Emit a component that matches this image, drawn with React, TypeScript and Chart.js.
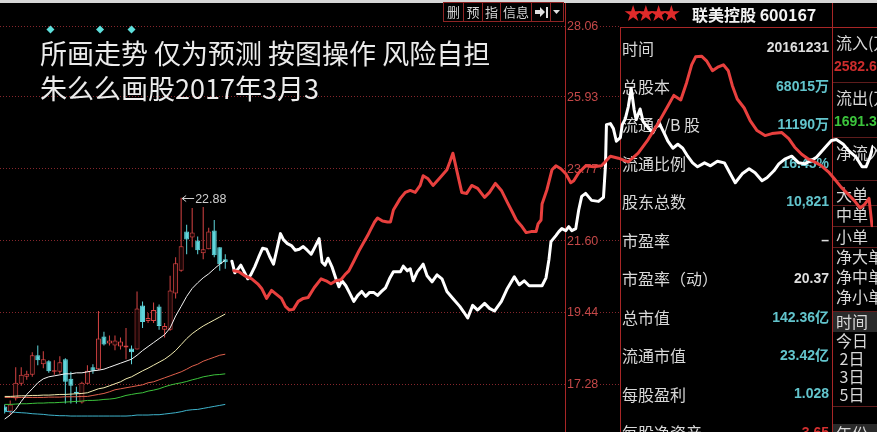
import React, { useEffect, useRef } from "react";
import { Chart, registerables } from "chart.js";

Chart.register(...registerables);

const W = 877;
const H = 432;
const CJK = '"Noto Sans CJK SC", "Noto Sans", sans-serif';
const LAT = '"Liberation Sans", Arial, "Noto Sans CJK SC", sans-serif';
const RED = "#d84444";
const CYAN = "#5fd6dc";

// ---- daily candles: [open, high, low, close] ----
const candles: number[][] = [
  [16.6, 16.66, 16.39, 16.45], [16.45, 16.78, 16.36, 16.66], [16.84, 17.78, 16.78, 17.31],
  [17.28, 17.78, 17.22, 17.55], [17.49, 17.67, 17.4, 17.58], [17.55, 18.23, 17.49, 18.14],
  [18.14, 18.43, 17.84, 17.99], [17.87, 18.26, 17.75, 18.02], [17.96, 17.99, 17.61, 17.66],
  [17.64, 17.99, 17.55, 17.69], [17.64, 18.11, 17.58, 17.93], [18.02, 18.05, 16.69, 17.34],
  [17.43, 17.64, 16.69, 17.22], [17.04, 17.19, 16.69, 16.99], [16.72, 17.34, 16.69, 17.31],
  [17.28, 17.84, 17.28, 17.67], [17.78, 17.87, 17.58, 17.67], [17.72, 19.47, 17.69, 18.64],
  [18.7, 18.85, 18.43, 18.46], [18.49, 18.73, 18.43, 18.58], [18.43, 18.73, 18.29, 18.58],
  [18.4, 18.67, 18.31, 18.55], [18.37, 18.96, 18.02, 18.43], [18.34, 18.43, 17.87, 18.23],
  [18.31, 20.06, 18.31, 19.55], [19.64, 19.76, 18.96, 19.14], [19.17, 19.41, 19.11, 19.26],
  [19.17, 19.73, 19.11, 19.5], [19.61, 19.67, 18.91, 19.02], [18.91, 19.11, 18.67, 19.02],
  [18.91, 20.53, 18.88, 20.09], [20.0, 21.09, 19.85, 20.91], [20.68, 22.88, 20.65, 21.42],
  [21.86, 22.07, 21.18, 21.62], [21.68, 22.57, 21.39, 21.83], [21.59, 21.71, 21.18, 21.3],
  [21.21, 22.6, 21.03, 21.33], [21.33, 21.98, 21.33, 21.86], [21.89, 22.21, 21.09, 21.15],
  [21.39, 21.39, 20.68, 20.88], [21.03, 21.18, 20.74, 20.94],
];

// ---- moving averages ----
const ma5 = [16.22, 16.34, 16.51, 16.75, 16.96, 17.13, 17.31, 17.43, 17.49, 17.52, 17.55, 17.58, 17.58, 17.61, 17.61, 17.64, 17.67, 17.69, 17.72, 17.78, 17.84, 17.9, 17.96, 18.02, 18.14, 18.28, 18.4, 18.52, 18.64, 18.76, 18.96, 19.32, 19.61, 19.91, 20.15, 20.32, 20.47, 20.59, 20.74, 20.88, 21.0];
const ma10 = [16.9, 16.9, 16.91, 16.92, 16.92, 16.93, 16.93, 16.94, 16.94, 16.95, 16.96, 16.96, 16.97, 16.98, 16.99, 17.01, 17.07, 17.13, 17.16, 17.22, 17.28, 17.34, 17.43, 17.49, 17.58, 17.67, 17.75, 17.84, 17.93, 18.02, 18.14, 18.28, 18.46, 18.64, 18.79, 18.91, 19.02, 19.11, 19.2, 19.29, 19.38];
const ma20 = [16.87, 16.87, 16.87, 16.87, 16.87, 16.87, 16.87, 16.87, 16.88, 16.88, 16.88, 16.89, 16.89, 16.89, 16.9, 16.9, 16.93, 16.96, 16.99, 17.04, 17.1, 17.13, 17.16, 17.19, 17.22, 17.25, 17.31, 17.34, 17.4, 17.46, 17.52, 17.58, 17.64, 17.72, 17.81, 17.87, 17.96, 18.02, 18.08, 18.14, 18.17];
const ma30 = [16.66, 16.66, 16.67, 16.68, 16.68, 16.69, 16.7, 16.7, 16.71, 16.71, 16.72, 16.73, 16.74, 16.75, 16.76, 16.78, 16.78, 16.79, 16.81, 16.82, 16.84, 16.88, 16.93, 16.96, 16.99, 17.01, 17.06, 17.09, 17.13, 17.19, 17.24, 17.28, 17.31, 17.35, 17.4, 17.44, 17.49, 17.52, 17.55, 17.56, 17.58];
const ma60 = [16.45, 16.44, 16.42, 16.41, 16.4, 16.38, 16.37, 16.36, 16.34, 16.33, 16.32, 16.32, 16.31, 16.31, 16.31, 16.31, 16.31, 16.31, 16.31, 16.31, 16.31, 16.31, 16.31, 16.32, 16.34, 16.34, 16.34, 16.35, 16.35, 16.37, 16.39, 16.41, 16.44, 16.48, 16.5, 16.51, 16.54, 16.57, 16.6, 16.63, 16.66];

// ---- price axis ticks ----
const priceTicks = [28.06, 25.93, 23.77, 21.6, 19.44, 17.28];
const tickLabels = ["28.06", "25.93", "23.77", "21.60", "19.44", "17.28"];

// ---- hand-drawn forecasts: [day, price] ----
const whiteForecast: number[][] = [
  [41.2, 20.97], [41.74, 20.62], [42.46, 20.77], [42.82, 20.85], [43.36, 20.68], [44.08, 20.44], [44.62, 20.56], [45.34, 20.8], [46.06, 21.09], [46.78, 21.36], [47.49, 21.33], [48.03, 21.12], [48.75, 20.88], [49.29, 21.27], [50.01, 21.8], [50.55, 21.62], [51.27, 21.5], [51.99, 21.44], [52.7, 21.3], [53.42, 21.33], [54.14, 21.41], [54.86, 21.3], [55.58, 21.18], [56.3, 21.41], [57.02, 21.65], [57.56, 20.94], [58.1, 20.85], [58.63, 21.06], [59.35, 20.8], [60.07, 20.44], [60.61, 20.2], [61.15, 20.38], [61.87, 20.23], [62.59, 20.0], [63.31, 19.76], [64.03, 19.94], [64.74, 20.06], [65.46, 19.91], [66.18, 20.03], [66.9, 20.03], [67.62, 19.94], [68.34, 20.06], [69.06, 20.17], [69.78, 20.44], [70.49, 20.65], [71.21, 20.65], [71.75, 20.65], [72.29, 20.82], [73.01, 20.68], [73.55, 20.74], [74.09, 20.38], [74.81, 20.65], [75.53, 20.8], [75.89, 20.88], [76.6, 20.53], [77.5, 20.35], [78.4, 20.56], [79.3, 20.44], [80.2, 20.06], [81.28, 19.85], [82.53, 19.61], [83.25, 19.44], [83.97, 19.26], [84.87, 19.64], [85.77, 19.5], [87.03, 19.7], [87.92, 19.55], [88.82, 19.47], [90.08, 19.76], [91.16, 20.15], [92.42, 20.5], [93.32, 20.26], [94.21, 20.38], [95.11, 20.23], [96.37, 20.23], [97.45, 20.23], [98.17, 20.47], [98.71, 21.03], [99.07, 21.56], [99.96, 21.74], [100.5, 21.86], [101.04, 21.95], [101.76, 21.89], [102.3, 22.01], [102.84, 21.89], [103.56, 21.95], [104.1, 22.51], [104.64, 22.92], [105.36, 23.01], [106.43, 22.8], [107.69, 22.77], [108.59, 22.89], [108.95, 23.84], [109.13, 25.08], [109.85, 25.11], [110.39, 24.96], [110.93, 24.58], [111.65, 24.69], [112.0, 25.08], [112.54, 25.25], [113.08, 25.61], [113.62, 26.17], [114.16, 25.52], [114.52, 25.23], [115.24, 25.55], [115.78, 25.17], [116.68, 24.99], [117.57, 24.84], [118.11, 25.02], [118.83, 25.08], [119.55, 24.84], [120.27, 24.58], [121.17, 24.37], [122.07, 24.49], [122.97, 24.37], [123.86, 24.13], [124.76, 23.93], [125.66, 23.81], [126.92, 23.93], [128.0, 23.84], [129.25, 23.98], [130.51, 23.93], [131.59, 23.6], [132.49, 23.33], [133.75, 23.6], [135.0, 23.75], [136.08, 23.63], [137.34, 23.39], [138.24, 23.48], [139.5, 23.69], [140.4, 23.9], [141.47, 24.04], [142.73, 24.13], [143.99, 23.93], [145.07, 23.9], [146.33, 24.01], [147.22, 24.1], [148.66, 24.37], [149.92, 24.6], [150.82, 24.63], [152.08, 24.49], [153.15, 24.28], [154.41, 24.1], [155.49, 23.81], [156.21, 23.81], [156.93, 24.1], [157.47, 24.43],
];
const redForecast: number[][] = [
  [41.56, 20.68], [42.46, 20.65], [43.54, 20.53], [44.8, 20.44], [45.88, 20.29], [46.6, 20.15], [47.49, 19.85], [48.39, 20.09], [49.29, 19.97], [50.19, 19.85], [50.91, 19.61], [51.63, 19.5], [52.35, 19.52], [53.24, 19.76], [54.14, 19.85], [55.04, 19.88], [56.12, 20.17], [57.38, 20.44], [58.28, 20.38], [59.17, 20.29], [60.07, 20.38], [60.97, 20.41], [61.69, 20.56], [62.41, 20.68], [63.31, 20.97], [64.21, 21.27], [65.1, 21.53], [65.82, 21.74], [66.36, 21.92], [67.08, 22.15], [67.62, 22.27], [68.52, 22.18], [69.42, 22.15], [69.96, 22.15], [70.49, 22.51], [71.21, 22.71], [71.75, 22.86], [72.65, 23.04], [73.55, 23.1], [74.45, 23.04], [75.35, 23.25], [75.89, 23.54], [76.78, 23.45], [77.68, 23.25], [78.94, 23.48], [80.2, 23.72], [80.74, 23.96], [81.28, 24.22], [82.0, 23.69], [82.89, 23.04], [83.79, 23.01], [84.69, 23.25], [85.77, 23.16], [87.03, 22.89], [87.92, 23.04], [89.0, 23.31], [90.08, 23.1], [91.16, 22.74], [92.06, 22.45], [92.78, 22.21], [93.68, 22.04], [94.57, 21.83], [95.47, 21.86], [96.37, 21.86], [96.73, 22.09], [97.27, 22.21], [97.45, 22.69], [98.35, 23.13], [99.25, 23.72], [99.96, 23.84], [100.86, 23.75], [101.76, 23.6], [102.66, 23.33], [103.2, 23.39], [104.1, 23.63], [105.36, 23.84], [106.79, 23.81], [108.23, 23.84], [109.85, 24.13], [111.29, 24.07], [113.08, 23.96], [114.88, 24.22], [116.68, 24.63], [118.47, 25.11], [120.27, 25.64], [121.35, 25.96], [122.61, 25.82], [123.68, 26.35], [124.58, 26.88], [125.3, 27.12], [126.38, 27.14], [127.28, 27.0], [128.36, 26.7], [129.43, 26.82], [130.33, 26.88], [131.23, 26.7], [131.95, 26.26], [132.85, 25.85], [134.11, 25.58], [135.19, 25.2], [136.44, 24.9], [137.88, 24.75], [139.14, 24.81], [140.94, 24.84], [142.19, 24.66], [143.27, 24.4], [144.53, 24.19], [145.79, 24.04], [146.87, 23.96], [148.12, 23.84], [149.38, 23.66], [150.46, 23.45], [151.72, 23.19], [152.97, 22.98], [154.05, 22.8], [155.13, 22.57], [155.85, 22.66], [156.75, 22.86], [157.29, 22.04],
];

// ---- markers and annotations ----
const markerDays = [8.3, 17.3, 23.0];
const markerPrice = 27.94;
const highDay = 32;
const highPrice = 22.88;
const highLabel = "22.88";

// ---- texts ----
const noteLines = ["所画走势 仅为预测 按图操作 风险自担", "朱么么画股2017年3月3"];
const toolButtons = ["删", "预", "指", "信息"];
const stockTitle = "联美控股 600167";
const ratingStar = "★";
const ratingCount = 4;
const infoLabels = ["时间", "总股本", "流通A/B 股", "流通比例", "股东总数", "市盈率", "市盈率（动）", "总市值", "流通市值", "每股盈利", "每股净资产"];
const infoValues = ["20161231", "68015万", "11190万", "16.45%", "10,821", "–", "20.37", "142.36亿", "23.42亿", "1.028", "3.65"];
const infoKinds = ["w", "c", "c", "c", "c", "w", "w", "c", "c", "c", "r"];
const flowLabels = ["流入(万)", "流出(万)", "净流入"];
const flowValues = ["2582.6", "1691.3"];
const orderLabels = ["大单", "中单", "小单", "净大单", "净中单", "净小单"];
const periodLabels = ["时间", "今日", " 2日", " 3日", " 5日", "年份"];

const isUp = (c: number[]) => c[3] >= c[0];

const scenePlugin = {
  id: "scene",
  beforeDraw(chart: any) {
    const { ctx } = chart;
    const ys = chart.scales.y;
    ctx.save();
    ctx.fillStyle = "#000";
    ctx.fillRect(0, 0, W, H);
    ctx.fillStyle = "#d6d6d6";
    ctx.fillRect(0, 0, W, 3);

    const hl = (x1: number, x2: number, y: number) => {
      ctx.beginPath(); ctx.moveTo(x1, y); ctx.lineTo(x2, y); ctx.stroke();
    };
    const vl = (x: number, y1: number, y2: number) => {
      ctx.beginPath(); ctx.moveTo(x, y1); ctx.lineTo(x, y2); ctx.stroke();
    };

    // dotted price grid
    ctx.lineWidth = 1;
    ctx.strokeStyle = "#86262c";
    ctx.setLineDash([1, 2]);
    priceTicks.forEach((v) => {
      const py = Math.round(ys.getPixelForValue(v)) + 0.5;
      hl(0, 565, py);
      hl(600, 620, py);
    });
    ctx.setLineDash([]);

    // frame lines
    ctx.strokeStyle = "#a82626";
    vl(565.5, 3, H);
    vl(620.5, 27, H);
    vl(832.5, 3, H);
    hl(620, W, 27.5);
    ctx.strokeStyle = "#5e1c1c";
    [82, 137, 180, 205, 226, 247, 311, 406].forEach((y) => hl(833, W, y + 0.5));

    // gray row backgrounds
    ctx.fillStyle = "#2a2a2a";
    ctx.fillRect(833, 312, W - 833, 20);
    ctx.fillRect(833, 424, W - 833, 8);

    // price labels
    ctx.fillStyle = "#c44848";
    ctx.font = `12.5px ${LAT}`;
    ctx.textBaseline = "middle";
    ctx.textAlign = "left";
    priceTicks.forEach((v, i) => ctx.fillText(tickLabels[i], 567, ys.getPixelForValue(v) + 1));

    // toolbar
    const edges = [443, 463, 482, 500, 531, 550, 563];
    ctx.strokeStyle = "#8e2424";
    ctx.strokeRect(edges[0] + 0.5, 2.5, edges[6] - edges[0], 19);
    edges.slice(1, 6).forEach((x) => vl(x + 0.5, 3, 22));
    ctx.fillStyle = "#d4d4d4";
    ctx.font = `13px ${CJK}`;
    ctx.textAlign = "center";
    toolButtons.forEach((t, i) => ctx.fillText(t, (edges[i] + edges[i + 1]) / 2 + 0.5, 12.5));
    // icon: arrow to bar
    ctx.fillStyle = "#e0e0e0";
    ctx.beginPath();
    ctx.moveTo(535, 10); ctx.lineTo(540, 10); ctx.lineTo(540, 7); ctx.lineTo(545, 12);
    ctx.lineTo(540, 17); ctx.lineTo(540, 14); ctx.lineTo(535, 14); ctx.closePath(); ctx.fill();
    ctx.fillRect(546, 7, 2, 11);
    ctx.beginPath();
    ctx.moveTo(553, 10); ctx.lineTo(560, 10); ctx.lineTo(556.5, 14); ctx.closePath(); ctx.fill();

    // header
    ctx.textAlign = "center";
    ctx.fillStyle = "#e02a2a";
    ctx.font = `22px "DejaVu Sans", sans-serif`;
    for (let i = 0; i < ratingCount; i++) ctx.fillText(ratingStar, 633 + i * 12.8, 15);
    ctx.textAlign = "left";
    ctx.fillStyle = "#f2f2f2";
    ctx.font = `bold 16px ${CJK}`;
    ctx.fillText(stockTitle, 692, 15);

    // note text
    ctx.fillStyle = "#ececec";
    ctx.font = `27px ${CJK}`;
    ctx.fillText(noteLines[0], 40, 54);
    ctx.fillText(noteLines[1], 40, 89);

    // info panel
    const kindColor: Record<string, string> = { w: "#dedede", c: "#62c4cc", r: "#d43030" };
    infoLabels.forEach((t, k) => {
      const y = 48.5 + 38.45 * k;
      ctx.textAlign = "left";
      ctx.fillStyle = "#d8d8d8";
      ctx.font = `16px ${CJK}`;
      ctx.fillText(t, 622, y);
      ctx.textAlign = "right";
      ctx.fillStyle = kindColor[infoKinds[k]];
      ctx.font = `bold 14px ${LAT}`;
      ctx.fillText(infoValues[k], 829, y);
    });

    // right panel
    ctx.textAlign = "left";
    ctx.font = `16px ${CJK}`;
    ctx.fillStyle = "#d8d8d8";
    [43, 98, 153].forEach((y, i) => ctx.fillText(flowLabels[i], 836, y));
    ctx.font = `bold 14px ${LAT}`;
    ctx.fillStyle = "#cc2c2c";
    ctx.fillText(flowValues[0], 834, 67);
    ctx.fillStyle = "#3cc43c";
    ctx.fillText(flowValues[1], 834, 122);
    ctx.font = `16px ${CJK}`;
    ctx.fillStyle = "#d8d8d8";
    [195, 215, 237, 257, 277, 297].forEach((y, i) => ctx.fillText(orderLabels[i], 836, y));
    [322, 341, 359, 377, 395, 434].forEach((y, i) => ctx.fillText(periodLabels[i], 836, y));
    ctx.restore();
  },
  afterDatasetsDraw(chart: any) {
    const { ctx } = chart;
    const px = chart.scales.x.getPixelForValue(highDay);
    const py = Math.round(chart.scales.y.getPixelForValue(highPrice)) + 0.5;
    ctx.save();
    ctx.strokeStyle = "#cfcfcf";
    ctx.lineWidth = 1;
    ctx.beginPath();
    ctx.moveTo(px + 1, py); ctx.lineTo(px + 13, py);
    ctx.moveTo(px + 5, py - 3); ctx.lineTo(px + 1, py); ctx.lineTo(px + 5, py + 3);
    ctx.stroke();
    ctx.fillStyle = "#cfcfcf";
    ctx.font = `12.5px ${LAT}`;
    ctx.textBaseline = "middle";
    ctx.fillText(highLabel, px + 14, py + 1);
    ctx.restore();
  },
};

const lineDs = (data: number[], color: string, order: number) => ({
  type: "line",
  data: data.map((v, i) => ({ x: i, y: v })),
  borderColor: color,
  borderWidth: 1,
  pointRadius: 0,
  order,
});

export default function App() {
  const ref = useRef<HTMLCanvasElement>(null);
  useEffect(() => {
    document.body.style.margin = "0";
    document.body.style.background = "#000";
    const canvas = ref.current;
    if (!canvas) return;
    const chart = new Chart(canvas, {
      type: "bar",
      data: {
        datasets: [
          {
            type: "bar",
            data: candles.map((c, i) => ({ x: i, y: [c[2], c[1]] })),
            backgroundColor: candles.map((c) => (isUp(c) ? RED : CYAN)),
            borderWidth: 0,
            barThickness: 1,
            grouped: false,
            inflateAmount: 0,
            order: 20,
          },
          {
            type: "bar",
            data: candles.map((c, i) => ({ x: i, y: [c[0], c[3]] })),
            backgroundColor: candles.map((c) => (isUp(c) ? "#1a0606" : CYAN)),
            borderColor: candles.map((c) => (isUp(c) ? RED : CYAN)),
            borderWidth: 1,
            borderSkipped: false,
            barThickness: 5,
            grouped: false,
            inflateAmount: 0,
            order: 19,
          },
          lineDs(ma60, "#3fb4cc", 14),
          lineDs(ma30, "#3cc23c", 13),
          lineDs(ma20, "#e0604c", 12),
          lineDs(ma10, "#f2ecb0", 11),
          lineDs(ma5, "#f4f4f4", 10),
          {
            type: "line",
            data: markerDays.map((d) => ({ x: d, y: markerPrice })),
            showLine: false,
            pointStyle: "rectRot",
            pointRadius: 4,
            pointBackgroundColor: "#5ee0dc",
            pointBorderWidth: 0,
            order: 9,
          },
          {
            type: "line",
            data: whiteForecast.map((p) => ({ x: p[0], y: p[1] })),
            borderColor: "#ffffff",
            borderWidth: 3,
            pointRadius: 0,
            tension: 0,
            borderJoinStyle: "round",
            borderCapStyle: "round",
            order: 2,
          },
          {
            type: "line",
            data: redForecast.map((p) => ({ x: p[0], y: p[1] })),
            borderColor: "#e8403e",
            borderWidth: 3,
            pointRadius: 0,
            tension: 0,
            borderJoinStyle: "round",
            borderCapStyle: "round",
            order: 1,
          },
        ] as any,
      },
      options: {
        animation: false,
        responsive: false,
        events: [],
        layout: { padding: 0 },
        plugins: { legend: { display: false }, tooltip: { enabled: false }, title: { display: false } },
        scales: {
          x: { type: "linear", min: -0.126, max: 157.47, offset: false, display: false, grid: { offset: false } },
          y: { type: "linear", min: 15.95, max: 28.71, beginAtZero: false, display: false },
        },
      } as any,
      plugins: [scenePlugin as any],
    });
    return () => chart.destroy();
  }, []);
  return (
    <div style={{ position: "relative", width: W, height: H, background: "#000" }}>
      <canvas ref={ref} width={W} height={H} style={{ display: "block", width: W, height: H }} />
    </div>
  );
}
